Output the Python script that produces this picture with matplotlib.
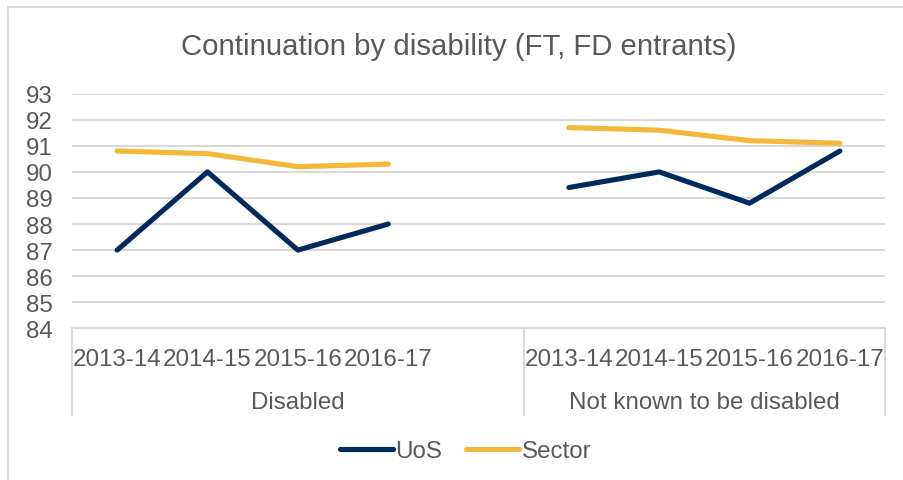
import matplotlib.pyplot as plt
from matplotlib.patches import Rectangle
from matplotlib.transforms import blended_transform_factory

plt.rcParams['font.family'] = ['Liberation Sans', 'DejaVu Sans']

# data
years = ["2013-14", "2014-15", "2015-16", "2016-17"]
groups = ["Disabled", "Not known to be disabled"]
uos_disabled = [87.0, 90.0, 87.0, 88.0]
sector_disabled = [90.8, 90.7, 90.2, 90.3]
uos_notknown = [89.4, 90.0, 88.8, 90.8]
sector_notknown = [91.7, 91.6, 91.2, 91.1]
y_ticks = [84, 85, 86, 87, 88, 89, 90, 91, 92, 93]

TEXT = "#595959"
GRID = "#d9d9d9"
NAVY = "#012a5c"
GOLD = "#f3b73a"
FS = 17.4

# Disabled group gets a blank trailing category, like the Excel source
cats = years + [""] + years
x_dis = list(range(len(years)))
x_nk = [len(years) + 1 + i for i in range(len(years))]

fig = plt.figure(figsize=(9.04, 4.81), dpi=100)
fig.patches.append(Rectangle((8 / 904, -0.1), 1.0, 1 - 8 / 481 + 0.1, transform=fig.transFigure,
                             fill=False, edgecolor=GRID, linewidth=1.5))
ax = fig.add_axes([72 / 904, 1 - 329.3 / 481, (885 - 72) / 904, (329.3 - 94.7) / 481])

lw = 3.7
ax.plot(x_dis, uos_disabled, color=NAVY, lw=lw, solid_capstyle="round", solid_joinstyle="round", label="UoS", zorder=3)
ax.plot(x_nk, uos_notknown, color=NAVY, lw=lw, solid_capstyle="round", solid_joinstyle="round", zorder=3)
ax.plot(x_dis, sector_disabled, color=GOLD, lw=lw, solid_capstyle="round", solid_joinstyle="round", label="Sector", zorder=3)
ax.plot(x_nk, sector_notknown, color=GOLD, lw=lw, solid_capstyle="round", solid_joinstyle="round", zorder=3)

ax.set_xlim(-0.5, len(cats) - 0.5)
ax.set_ylim(y_ticks[0], y_ticks[-1])
ax.set_yticks(y_ticks)
ax.set_yticklabels([str(t) for t in y_ticks], fontsize=FS, color=TEXT)
ax.yaxis.grid(True, color=GRID, lw=1.5)
ax.set_axisbelow(True)
ax.tick_params(axis="y", length=0, pad=14)
ax.set_xticks(range(len(cats)))
ax.set_xticklabels(cats, fontsize=FS, color=TEXT)
ax.tick_params(axis="x", length=0, pad=14)
for s in ["left", "right", "top"]:
    ax.spines[s].set_visible(False)
ax.spines["bottom"].set_color(GRID)
ax.spines["bottom"].set_linewidth(1.5)

# group labels and separators below the axis
tr = blended_transform_factory(ax.transData, ax.transAxes)
bounds = [-0.5, len(years) + 0.5, len(cats) - 0.5]
for xb in bounds:
    ax.plot([xb, xb], [0, -0.37], transform=tr, color=GRID, lw=1.5, clip_on=False)
for i, g in enumerate(groups):
    ax.text((bounds[i] + bounds[i + 1]) / 2, -0.315, g, transform=tr, ha="center", va="center",
            fontsize=FS, color=TEXT)

fig.text(0.508, 1 - 47 / 481, "Continuation by disability (FT, FD entrants)", ha="center", va="center",
         fontsize=21.2, color=TEXT)
fig.legend(loc="center", bbox_to_anchor=(0.515, 1 - 452 / 481), ncol=2, frameon=False, fontsize=FS,
           handlelength=2.2, handletextpad=0.1, columnspacing=1.0, labelcolor=TEXT)

fig.savefig("out.png", dpi=100)
